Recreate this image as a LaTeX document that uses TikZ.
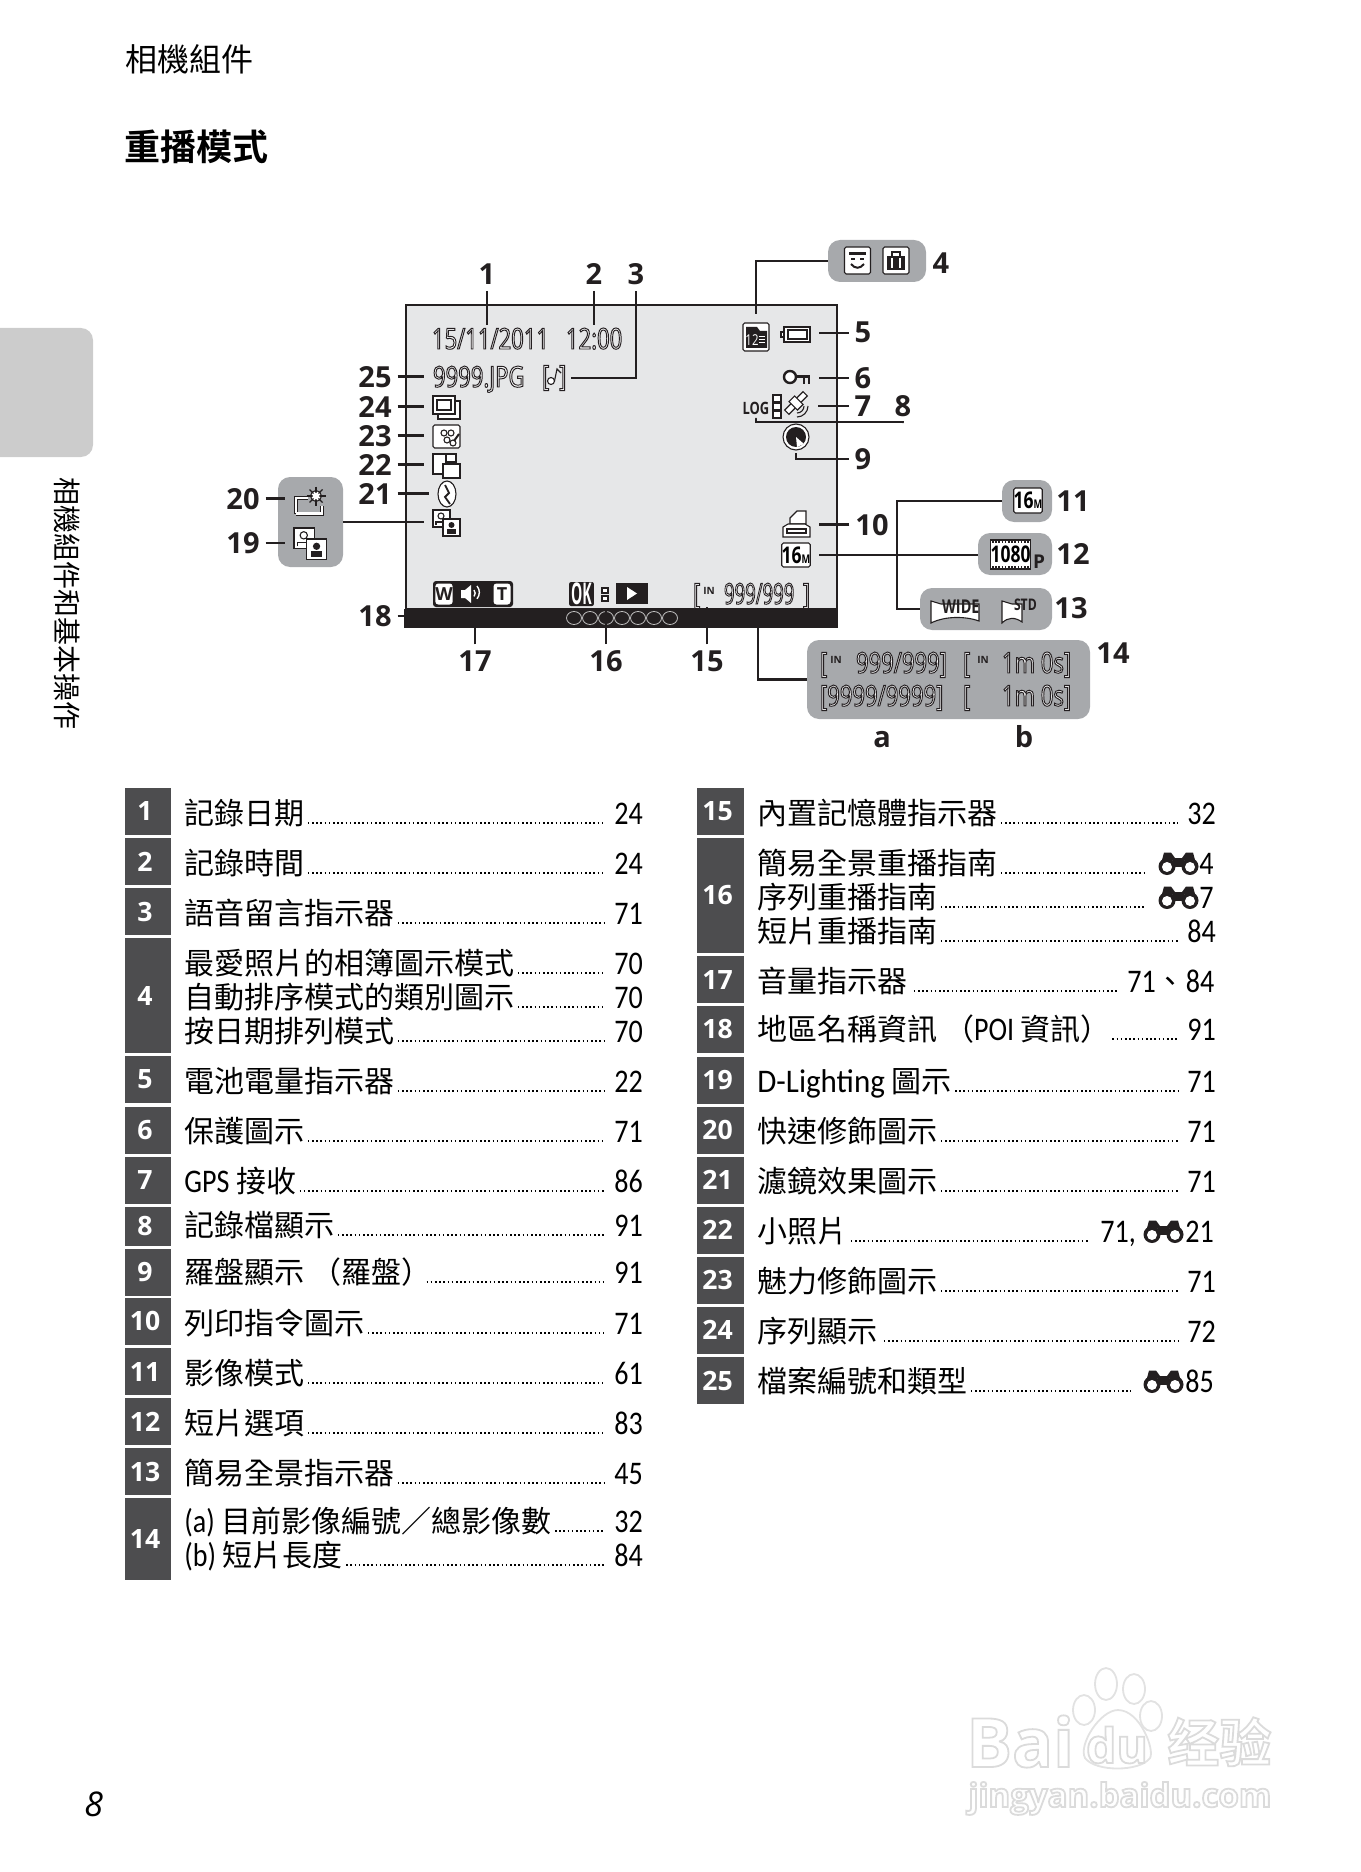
\documentclass[tikz,border=0pt]{standalone}
\usepackage{fontspec}
\usepackage{xcolor}
\usetikzlibrary{positioning, calc, shapes.geometric}

\setmainfont{Open Sans}
\newfontfamily\cjk{Noto Sans CJK TC}
\newfontfamily\cjkbold{Noto Sans CJK TC Bold}
\newfontfamily\bodyfont[Scale=1.1,FakeStretch=0.94]{Carlito}
\newfontfamily\pagefont[Scale=1.1,FakeStretch=0.85]{Carlito}
\newfontfamily\lcdfill[FakeStretch=0.76]{Open Sans}
\newfontfamily\lcdnarrow[FakeStretch=0.76]{Open Sans Bold}
\newfontfamily\wmfillfont{Open Sans Bold}
\newfontfamily\wmcjkfill{Noto Sans CJK SC Bold}

\definecolor{inkblack}{HTML}{231F20}
\definecolor{numgray}{HTML}{4D4D4F}
\definecolor{panelgray}{HTML}{A7A9AC}
\definecolor{lcdgray}{HTML}{E6E7E8}
\definecolor{tabgray}{HTML}{CCCCCC}
\definecolor{wmedge}{HTML}{E2E2E2}

\newcommand{\lcdtext}[1]{\special{pdf:code q 2 Tr 0.48 w 1 g 0.14 0.12 0.13 RG}{\lcdfill #1}\special{pdf:code Q}}
\newcommand{\wmtext}[1]{\special{pdf:code q 2 Tr 0.9 w 1 g 0.86 0.86 0.86 RG}#1\special{pdf:code Q}}
\newcommand{\imgmode}{\lcdnarrow 16{\fontsize{6}{6}\selectfont M}}

\tikzset{
    binoc/.pic={
        \fill[inkblack] (9,14.5) circle[radius=8.5];
        \fill[inkblack] (32,14.5) circle[radius=8.5];
        \fill[inkblack] (6,0.5) -- (13,0.5) -- (17,6) -- (24,6) -- (28,0.5) -- (35,0.5) -- (37,8) -- (4,8) -- cycle;
        \fill[inkblack] (15,6) rectangle (26,15);
        \fill[white] (9,15) circle[radius=5];
        \fill[white] (32,15) circle[radius=5];
    },
    dlight/.pic={
        \draw[iconline, fill=white] (0,0) rectangle (17,17);
        \draw[iconline] (8,6) circle[radius=3];
        \draw[iconline] (3,15) -- (3,12) -- (13,12) -- (13,15);
        \draw[iconline, fill=white] (10,9) rectangle (27,26);
        \fill[inkblack] (18.5,15) circle[radius=3];
        \fill[inkblack] (14,19) rectangle (23,24);
    }
}

\begin{document}
\begin{tikzpicture}[
    x=0.5pt, y=-0.5pt,
    leadline/.style={line width=1.15pt, draw=inkblack},
    iconline/.style={line width=0.55pt, draw=inkblack},
    leader/.style={line width=0.9pt, draw=black, dash pattern=on 0.8pt off 1.3pt},
    numbox/.style={rectangle, fill=numgray, text=white, inner sep=0pt, minimum width=23.25pt, minimum height=23.5pt, font=\bfseries\fontsize{13.3}{14}\selectfont, execute at begin node=\kern-3pt},
    entrytext/.style={anchor=base west, inner sep=0pt, font=\cjk\fontsize{15}{18}\selectfont},
    pagenum/.style={anchor=base west, inner sep=0pt, font=\pagefont\fontsize{15}{18}\selectfont},
    callout/.style={anchor=base, inner sep=0pt, outer sep=3pt, text=inkblack, font=\bfseries\fontsize{14.5}{16}\selectfont},
    panel/.style={rectangle, fill=panelgray, rounded corners=6pt, inner sep=0pt},
    lcdlabel/.style={anchor=base west, inner sep=0pt, outer xsep=0pt, outer ysep=1.5pt, font=\fontsize{14.5}{16}\selectfont},
    lcdsmall/.style={anchor=base west, inner sep=0pt, outer sep=0pt, text=inkblack},
    lcdspot/.style={rectangle, inner sep=0pt, outer sep=4.5pt},
    lcdicon/.style={lcdspot, draw=inkblack, fill=white, line width=0.55pt, rounded corners=0.8pt}
]
    \useasboundingbox (0,0) rectangle (1360,1872);

    % page furniture
    \node[anchor=base west, inner sep=0pt, font=\cjk\fontsize{16}{18}\selectfont] (runhead) at (125,72) {相機組件};
    \node[anchor=base west, inner sep=0pt, font=\cjkbold\fontsize{18}{20}\selectfont] (section) at (124,161) {重播模式};
    \fill[tabgray, rounded corners=6pt] (-20,328) rectangle (93,457);
    \node[rotate=-90, inner sep=0pt, font=\cjk\fontsize{14}{16}\selectfont] (sidetext) at (67,603) {相機組件和基本操作};
    \node[anchor=base west, inner sep=0pt, font=\itshape\fontsize{17}{20}\selectfont] (pageno) at (84,1816) {8};

    % screen
    \node[rectangle, draw=inkblack, fill=lcdgray, line width=1.15pt, inner sep=0pt, minimum width=215.5pt, minimum height=152pt] (screen) at (621.5,457) {};
    \node[rectangle, fill=inkblack, inner sep=0pt, minimum width=217pt, minimum height=9.5pt] (navbar) at (621,618.5) {};
    \draw[white!75!black, line width=0.4pt] (574,618) circle[x radius=7.5, y radius=6.5];
    \draw[white!75!black, line width=0.4pt] (590,618) circle[x radius=7.5, y radius=6.5];
    \draw[white!75!black, line width=0.4pt] (606,618) circle[x radius=7.5, y radius=6.5];
    \draw[white!75!black, line width=0.4pt] (622,618) circle[x radius=7.5, y radius=6.5];
    \draw[white!75!black, line width=0.4pt] (638,618) circle[x radius=7.5, y radius=6.5];
    \draw[white!75!black, line width=0.4pt] (654,618) circle[x radius=7.5, y radius=6.5];
    \draw[white!75!black, line width=0.4pt] (670,618) circle[x radius=7.5, y radius=6.5];

    % screen texts
    \node[lcdlabel] (date) at (432,349) {\lcdtext{15/11/2011}};
    \node[lcdlabel] (clock) at (566,349) {\lcdtext{12:00}};
    \node[lcdlabel, outer xsep=4.5pt] (jpgname) at (424,387) {\lcdtext{9999.JPG}};
    \node[lcdlabel, outer xsep=2pt] (audio) at (538,386) {\lcdtext{[\hspace{5pt}]}};
    \draw[iconline, fill=white] (551,381) circle[radius=3.5];
    \draw[iconline] (554.5,381) -- (557,369) -- (561,373);

    % left column icons
    \node[lcdspot, minimum width=13.5pt, minimum height=11.5pt] (seqicon) at (446.5,407.5) {};
    \draw[iconline, fill=white] (438,401) rectangle (460,419);
    \draw[iconline, fill=white] (433,396) rectangle (455,414);
    \draw[iconline] (437,400) rectangle (451,410);
    \node[lcdicon, minimum width=13.5pt, minimum height=11.5pt] (glamicon) at (446.5,436.5) {};
    \draw[iconline] (444,433) circle[radius=3];
    \draw[iconline] (451,433) circle[radius=3];
    \draw[iconline] (447,440) circle[radius=3];
    \draw[iconline, fill=white] (453,443) circle[radius=3];
    \draw[line width=1pt, inkblack] (454,441) -- (459,434);
    \node[lcdspot, minimum width=13.5pt, minimum height=12pt] (miniicon) at (446.5,466) {};
    \draw[iconline, fill=white] (433,454) rectangle (456,474);
    \draw[iconline] (446,454) -- (446,462) -- (456,462);
    \draw[iconline, fill=white] (443,464) rectangle (460,478);
    \node[lcdspot, ellipse, draw=inkblack, fill=white, line width=0.55pt, minimum width=9pt, minimum height=13pt] (filticon) at (447,494) {};
    \draw[inkblack, line width=0.9pt] (445,485) -- (449,493) -- (445,497) -- (450,504);
    \node[lcdspot, minimum width=13.5pt, minimum height=13pt] (dlicon) at (446.5,523) {};
    \pic at (433,510) {dlight};

    % right column icons
    \node[lcdicon, minimum width=13pt, minimum height=14pt] (sdcard) at (756,337) {};
    \fill[inkblack] (746,327) -- (757,327) -- (760,331) -- (767,331) -- (767,348) -- (746,348) -- cycle;
    \node[inner sep=0pt, text=white, font=\lcdfill\fontsize{7.5}{8}\selectfont] (sdnum) at (752,340) {12};
    \fill[white] (759,336) rectangle (765,337);
    \fill[white] (759,339) rectangle (765,340);
    \fill[white] (759,342) rectangle (765,343);
    \node[lcdspot, minimum width=14.5pt, minimum height=7.5pt] (battery) at (795.5,334.5) {};
    \draw[iconline, fill=white] (784,327) rectangle (810,342);
    \draw[iconline] (788,330) rectangle (807,339);
    \draw[iconline, fill=white] (781,332) rectangle (784,337);
    \node[lcdspot, minimum width=13.5pt, minimum height=7.5pt] (keyicon) at (796.5,377.5) {};
    \draw[inkblack, fill=white, line width=1.2pt] (790,377) circle[radius=6];
    \draw[inkblack, line width=1.8pt] (796,376.5) -- (810,376.5);
    \draw[inkblack, line width=1pt] (804,376) -- (804,384);
    \draw[inkblack, line width=1pt] (809,376) -- (809,384);
    \node[lcdspot, minimum width=13pt, minimum height=12.5pt] (gpsicon) at (796,405.5) {};
    \draw[iconline, fill=white, rotate around={45:(796,403)}] (783,400) rectangle (809,406);
    \draw[iconline, fill=white, rotate around={45:(796,403)}] (792,397) rectangle (800,409);
    \draw[iconline] (797,417) arc[start angle=90, end angle=0, radius=11];
    \draw[iconline] (797,413) arc[start angle=90, end angle=0, radius=7];
    \draw[iconline, fill=white] (773,395) rectangle (781,402);
    \draw[iconline, fill=white] (773,403) rectangle (781,410);
    \draw[iconline, fill=white] (773,411) rectangle (781,418);
    \node[lcdsmall, anchor=center, outer sep=2pt, font=\lcdnarrow\fontsize{8.5}{8}\selectfont] (logicon) at (756,408.5) {LOG};
    \node[circle, draw=inkblack, fill=white, line width=0.55pt, inner sep=0pt, outer sep=1.5pt, minimum size=13pt] (compass) at (796,437) {};
    \fill[inkblack] (796,437) circle[radius=10];
    \fill[white] (796,437) -- (804,444) -- (797,447) -- cycle;
    \node[lcdspot, minimum width=13.5pt, minimum height=13pt] (printer) at (796.5,524) {};
    \draw[iconline, fill=white] (790,524) -- (790,518) -- (797,511) -- (806,511) -- (806,524) -- cycle;
    \draw[iconline, fill=white] (783,537) -- (783,527) -- (788,524) -- (805,524) -- (810,527) -- (810,537) -- cycle;
    \draw[iconline] (787,529) rectangle (806,533);
    \node[lcdicon, minimum width=13pt, minimum height=12pt, font=\fontsize{11.5}{13}\selectfont] (imgicon) at (796,555) {\imgmode};

    % bottom row of the screen
    \node[rectangle, fill=inkblack, rounded corners=1.5pt, inner sep=0pt, outer sep=0pt, minimum width=40pt, minimum height=13pt] (zoompill) at (473,594) {};
    \node[rectangle, fill=white, text=inkblack, rounded corners=1.5pt, inner sep=0pt, minimum width=8.5pt, minimum height=10.5pt, font=\bfseries\fontsize{9}{10}\selectfont] (zoomw) at (444,594) {W};
    \node[rectangle, fill=white, text=inkblack, rounded corners=1.5pt, inner sep=0pt, minimum width=8.5pt, minimum height=10.5pt, font=\bfseries\fontsize{9}{10}\selectfont] (zoomt) at (502,594) {T};
    \fill[white] (461,590) -- (465,590) -- (471,585) -- (471,603) -- (465,598) -- (461,598) -- cycle;
    \draw[white, line width=0.7pt] (474,590) arc[start angle=-40, end angle=40, radius=5];
    \draw[white, line width=0.7pt] (477,586) arc[start angle=-40, end angle=40, radius=10];
    \node[rectangle, fill=inkblack, inner sep=0pt, text=white, rounded corners=1pt, xscale=0.62, transform shape, minimum width=20pt, minimum height=12pt, font=\lcdnarrow\fontsize{15}{15}\selectfont] (okkey) at (581.5,594) {OK};
    \draw[iconline, fill=white] (602,588) rectangle (608,593);
    \draw[iconline, fill=white] (602,596) rectangle (608,601);
    \node[rectangle, fill=inkblack, inner sep=0pt, minimum width=16pt, minimum height=10.5pt] (playkey) at (632,593.5) {};
    \fill[white] (627,587) -- (637,593.5) -- (627,600) -- cycle;
    \node[lcdlabel] (memleft) at (693,604) {\lcdtext{[}};
    \node[lcdspot, text=inkblack, font=\bfseries\fontsize{5}{5}\selectfont, minimum width=6pt, minimum height=6.5pt] (memin) at (709,591) {IN};
    \node[lcdlabel, xscale=0.84, transform shape] (memcount) at (724,604) {\lcdtext{999/999}};
    \node[lcdlabel] (memright) at (803,604) {\lcdtext{]}};

    % grey panels
    \node[panel, minimum width=49pt, minimum height=21pt] (panelalbum) at (877,261) {};
    \node[lcdicon, minimum width=13pt, minimum height=13.5pt] (faceicon) at (857.5,260.5) {};
    \fill[inkblack] (849,252) rectangle (866,255);
    \fill[inkblack] (851,258) rectangle (855,260);
    \fill[inkblack] (860,258) rectangle (864,260);
    \draw[inkblack, line width=1pt] (851,264) .. controls (855,269) and (860,269) .. (864,264);
    \node[lcdicon, minimum width=13pt, minimum height=13.5pt] (bagicon) at (896,260.5) {};
    \fill[inkblack] (887,256) rectangle (905,270);
    \draw[inkblack, line width=1pt] (892,256) -- (892,252) -- (900,252) -- (900,256);
    \fill[white] (891,258) rectangle (893,268);
    \fill[white] (899,258) rectangle (901,268);
    \node[panel, minimum width=25pt, minimum height=21pt] (panelmode) at (1027,501) {};
    \node[lcdicon, minimum width=13pt, minimum height=12.5pt, font=\fontsize{11.5}{13}\selectfont] (modeicon) at (1028,500.5) {\imgmode};
    \node[panel, minimum width=37pt, minimum height=21pt] (panelclip) at (1015,554) {};
    \node[rectangle, draw=inkblack, fill=white, line width=0.55pt, inner sep=0pt, minimum width=19.5pt, minimum height=14.5pt, font=\lcdnarrow\fontsize{11.5}{12}\selectfont] (clipicon) at (1010.5,554.5) {1080};
    \draw[inkblack, line width=1.2pt, dash pattern=on 0.8pt off 0.8pt] (992,542) -- (1030,542);
    \draw[inkblack, line width=1.2pt, dash pattern=on 0.8pt off 0.8pt] (992,567) -- (1030,567);
    \node[lcdsmall, font=\bfseries\fontsize{9.5}{10}\selectfont] (clipp) at (1033,568) {P};
    \node[panel, minimum width=66pt, minimum height=21pt] (panelpano) at (986,609) {};
    \node[lcdspot, minimum width=24pt, minimum height=12.5pt] (wideicon) at (955,610.5) {};
    \draw[iconline, fill=white] (931,601) -- (941,604) -- (979,604) -- (979,621) .. controls (965,616) and (945,616) .. (931,623) -- cycle;
    \node[lcdsmall, font=\lcdnarrow\fontsize{9.5}{9}\selectfont] (widetext) at (942,613) {WIDE};
    \draw[iconline, fill=white] (1002,601) -- (1012,604) -- (1022,604) -- (1022,622) .. controls (1015,617) and (1008,617) .. (1002,623) -- cycle;
    \node[lcdsmall, font=\lcdnarrow\fontsize{8}{8}\selectfont] (stdtext) at (1014,610) {STD};
    \node[panel, minimum width=141.5pt, minimum height=39.5pt] (panelcount) at (948.5,679.5) {};
    \node[lcdlabel] (counta) at (820,673) {\lcdtext{[}};
    \node[lcdspot, outer sep=0pt, text=inkblack, font=\bfseries\fontsize{5}{5}\selectfont] (countain) at (836,660) {IN};
    \node[lcdlabel] (countb) at (856,673) {\lcdtext{999/999]}};
    \node[lcdlabel] (countc) at (963,673) {\lcdtext{[}};
    \node[lcdspot, outer sep=0pt, text=inkblack, font=\bfseries\fontsize{5}{5}\selectfont] (countcin) at (983,660) {IN};
    \node[lcdlabel] (countd) at (1002,673) {\lcdtext{1m 0s]}};
    \node[lcdlabel] (counte) at (820,706) {\lcdtext{[9999/9999]}};
    \node[lcdlabel] (countf) at (963,706) {\lcdtext{[}};
    \node[lcdlabel] (countg) at (1002,706) {\lcdtext{1m 0s]}};
    \node[panel, minimum width=32.5pt, minimum height=45pt] (panelfx) at (310.5,522) {};
    \node[lcdspot, minimum width=16pt, minimum height=14pt] (fxicon) at (310,500.5) {};
    \draw[inkblack, line width=2.2pt, line join=miter] (296,514) -- (296,498) -- (308,498);
    \draw[inkblack, line width=2.2pt] (296,514) -- (322,514) -- (322,506);
    \draw[white, line width=1.2pt] (296,513) -- (296,498) -- (308,498);
    \draw[white, line width=1.2pt] (296,513.5) -- (322,513.5) -- (322,506);
    \draw[inkblack, line width=0.5pt, fill=white] (316,496) circle[radius=5.5];
    \draw[inkblack, line width=0.7pt] (316,486.5) -- (316,505.5);
    \draw[inkblack, line width=0.7pt] (306.5,496) -- (325.5,496);
    \draw[inkblack, line width=0.7pt] (309.5,489.5) -- (322.5,502.5);
    \draw[inkblack, line width=0.7pt] (309.5,502.5) -- (322.5,489.5);
    \fill[white] (316,496) circle[radius=3.5];
    \node[lcdspot, minimum width=16.5pt, minimum height=16pt] (lighticon) at (310.5,544) {};
    \pic[scale=1.22] at (294,528) {dlight};

    % number labels
    \node[callout] (n1) at (487,285) {1};
    \node[callout] (n2) at (594,285) {2};
    \node[callout] (n3) at (636,285) {3};
    \node[callout] (n4) at (941,274) {4};
    \node[callout] (n5) at (863,343) {5};
    \node[callout] (n6) at (863,388) {6};
    \node[callout] (n7) at (863,416) {7};
    \node[callout] (n8) at (903,416) {8};
    \node[callout] (n9) at (863,469) {9};
    \node[callout] (n10) at (872,535) {10};
    \node[callout] (n11) at (1073,511) {11};
    \node[callout] (n12) at (1073,564) {12};
    \node[callout] (n13) at (1071,618) {13};
    \node[callout] (n14) at (1113,663) {14};
    \node[callout] (n15) at (707,671) {15};
    \node[callout] (n16) at (606,671) {16};
    \node[callout] (n17) at (475,671) {17};
    \node[callout] (n18) at (375,626) {18};
    \node[callout] (n19) at (243,553) {19};
    \node[callout] (n20) at (243,509) {20};
    \node[callout] (n21) at (375,504) {21};
    \node[callout] (n22) at (375,475) {22};
    \node[callout] (n23) at (375,446) {23};
    \node[callout] (n24) at (375,417) {24};
    \node[callout] (n25) at (375,387) {25};
    \node[callout] (suba) at (882,747) {a};
    \node[callout] (subb) at (1024,747) {b};
    \coordinate (bar8) at (903,422);
    \coordinate (elbow13) at (897,611);
    \coordinate (drop14) at (758,610);

    % connectors
    \draw[leadline] (n1.south) -- (n1.south |- date.north);
    \draw[leadline] (n2.south) -- (n2.south |- clock.north);
    \draw[leadline] (n3.south) |- (audio.east);
    \draw[leadline] (panelalbum.west) -| (sdcard.north);
    \draw[leadline] (n5.west) -- (n5.west -| battery.east);
    \draw[leadline] (n6.west) -- (n6.west -| keyicon.east);
    \draw[leadline] (n7.west) -- (n7.west -| gpsicon.east);
    \draw[leadline, line cap=round] (logicon.south) |- (bar8) -- (n8.south);
    \draw[leadline] (compass.south) |- (n9.west);
    \draw[leadline] (n10.west) -- (n10.west -| printer.east);
    \draw[leadline] (panelmode.west) -- (panelmode.west -| elbow13) |- (panelpano.west);
    \draw[leadline] (imgicon.east) -- (imgicon.east -| panelclip.west);
    \draw[leadline] (panelcount.west) -| (drop14);
    \draw[leadline] (n15.north) -- (n15.north |- memin.south);
    \draw[leadline] (n16.north) -- (n16.north |- navbar.north);
    \draw[leadline] (n17.north) -- (n17.north |- navbar.north);
    \draw[leadline] (n18.east) -- (n18.east -| navbar.west);
    \draw[leadline] (n19.east) -- (n19.east -| lighticon.west);
    \draw[leadline] (n20.east) -- (n20.east -| fxicon.west);
    \draw[leadline] (panelfx.east) -- (panelfx.east -| dlicon.west);
    \draw[leadline] (n21.east) -- (n21.east -| filticon.west);
    \draw[leadline] (n22.east) -- (n22.east -| miniicon.west);
    \draw[leadline] (n23.east) -- (n23.east -| glamicon.west);
    \draw[leadline] (n24.east) -- (n24.east -| seqicon.west);
    \draw[leadline] (n25.east) -- (n25.east -| jpgname.west);

    % left table
    \node[numbox] (k1) at (148,811) {1};
    \node[entrytext] (t1) at (184,824) {記錄日期};
    \node[pagenum] (p1) at (614,824) {24};
    \draw[leader] ($(t1.base east)+(3,-1)$) -- ($(p1.base west)+(-10,-1)$);
    \node[numbox] (k2) at (148,861.5) {2};
    \node[entrytext] (t2) at (184,874) {記錄時間};
    \node[pagenum] (p2) at (614,874) {24};
    \draw[leader] ($(t2.base east)+(3,-1)$) -- ($(p2.base west)+(-10,-1)$);
    \node[numbox] (k3) at (148,911.5) {3};
    \node[entrytext] (t3) at (184,924) {語音留言指示器};
    \node[pagenum] (p3) at (614,924) {71};
    \draw[leader] ($(t3.base east)+(3,-1)$) -- ($(p3.base west)+(-10,-1)$);
    \node[numbox, minimum height=57.5pt] (k4) at (148,995.5) {4};
    \node[entrytext] (t4a) at (184,974) {最愛照片的相簿圖示模式};
    \node[pagenum] (p4a) at (614,974) {70};
    \draw[leader] ($(t4a.base east)+(3,-1)$) -- ($(p4a.base west)+(-10,-1)$);
    \node[entrytext] (t4b) at (184,1008) {自動排序模式的類別圖示};
    \node[pagenum] (p4b) at (614,1008) {70};
    \draw[leader] ($(t4b.base east)+(3,-1)$) -- ($(p4b.base west)+(-10,-1)$);
    \node[entrytext] (t4c) at (184,1042) {按日期排列模式};
    \node[pagenum] (p4c) at (614,1042) {70};
    \draw[leader] ($(t4c.base east)+(3,-1)$) -- ($(p4c.base west)+(-10,-1)$);
    \node[numbox] (k5) at (148,1079.5) {5};
    \node[entrytext] (t5) at (184,1092) {電池電量指示器};
    \node[pagenum] (p5) at (614,1092) {22};
    \draw[leader] ($(t5.base east)+(3,-1)$) -- ($(p5.base west)+(-10,-1)$);
    \node[numbox] (k6) at (148,1130) {6};
    \node[entrytext] (t6) at (184,1142) {保護圖示};
    \node[pagenum] (p6) at (614,1142) {71};
    \draw[leader] ($(t6.base east)+(3,-1)$) -- ($(p6.base west)+(-10,-1)$);
    \node[numbox] (k7) at (148,1180) {7};
    \node[entrytext] (t7) at (184,1192) {{\pagefont GPS} 接收};
    \node[pagenum] (p7) at (614,1192) {86};
    \draw[leader] ($(t7.base east)+(3,-1)$) -- ($(p7.base west)+(-10,-1)$);
    \node[numbox, minimum height=19.5pt] (k8) at (148,1226) {8};
    \node[entrytext] (t8) at (184,1236) {記錄檔顯示};
    \node[pagenum] (p8) at (614,1236) {91};
    \draw[leader] ($(t8.base east)+(3,-1)$) -- ($(p8.base west)+(-10,-1)$);
    \node[numbox] (k9) at (148,1272) {9};
    \node[entrytext] (t9) at (184,1283) {羅盤顯示 （羅盤）};
    \node[pagenum] (p9) at (614,1283) {91};
    \draw[leader] ($(t9.base east)+(-5,-1)$) -- ($(p9.base west)+(-10,-1)$);
    \node[numbox] (k10) at (148,1321) {10};
    \node[entrytext] (t10) at (184,1334) {列印指令圖示};
    \node[pagenum] (p10) at (614,1334) {71};
    \draw[leader] ($(t10.base east)+(3,-1)$) -- ($(p10.base west)+(-10,-1)$);
    \node[numbox] (k11) at (148,1371.5) {11};
    \node[entrytext] (t11) at (184,1384) {影像模式};
    \node[pagenum] (p11) at (614,1384) {61};
    \draw[leader] ($(t11.base east)+(3,-1)$) -- ($(p11.base west)+(-10,-1)$);
    \node[numbox] (k12) at (148,1421.5) {12};
    \node[entrytext] (t12) at (184,1434) {短片選項};
    \node[pagenum] (p12) at (614,1434) {83};
    \draw[leader] ($(t12.base east)+(3,-1)$) -- ($(p12.base west)+(-10,-1)$);
    \node[numbox] (k13) at (148,1471.5) {13};
    \node[entrytext] (t13) at (184,1484) {簡易全景指示器};
    \node[pagenum] (p13) at (614,1484) {45};
    \draw[leader] ($(t13.base east)+(3,-1)$) -- ($(p13.base west)+(-10,-1)$);
    \node[numbox, minimum height=41pt] (k14) at (148,1539) {14};
    \node[entrytext] (t14a) at (184,1532) {{\pagefont (a)} 目前影像編號／總影像數};
    \node[pagenum] (p14a) at (614,1532) {32};
    \draw[leader] ($(t14a.base east)+(3,-1)$) -- ($(p14a.base west)+(-10,-1)$);
    \node[entrytext] (t14b) at (184,1566) {{\pagefont (b)} 短片長度};
    \node[pagenum] (p14b) at (614,1566) {84};
    \draw[leader] ($(t14b.base east)+(3,-1)$) -- ($(p14b.base west)+(-10,-1)$);

    % right table
    \node[numbox] (k15) at (720.5,811) {15};
    \node[entrytext] (t15) at (757,824) {內置記憶體指示器};
    \node[pagenum] (p15) at (1187,824) {32};
    \draw[leader] ($(t15.base east)+(3,-1)$) -- ($(p15.base west)+(-9,-1)$);
    \node[numbox, minimum height=57.5pt] (k16) at (720.5,895.5) {16};
    \node[entrytext] (t16a) at (757,874) {簡易全景重播指南};
    \node[pagenum] (p16a) at (1199,874) {4};
    \pic at (1158,852) {binoc};
    \draw[leader] ($(t16a.base east)+(3,-1)$) -- ($(p16a.base west)+(-53,-1)$);
    \node[entrytext] (t16b) at (757,908) {序列重播指南};
    \node[pagenum] (p16b) at (1199,908) {7};
    \pic at (1158,886) {binoc};
    \draw[leader] ($(t16b.base east)+(3,-1)$) -- ($(p16b.base west)+(-53,-1)$);
    \node[entrytext] (t16c) at (757,942) {短片重播指南};
    \node[pagenum] (p16c) at (1187,942) {84};
    \draw[leader] ($(t16c.base east)+(3,-1)$) -- ($(p16c.base west)+(-9,-1)$);
    \node[numbox] (k17) at (720.5,979.5) {17};
    \node[entrytext] (t17) at (757,992) {音量指示器};
    \node[pagenum] (p17) at (1127,992) {71\cjk、\pagefont 84};
    \draw[leader] ($(t17.base east)+(6,-1)$) -- ($(p17.base west)+(-8,-1)$);
    \node[numbox] (k18) at (720.5,1029.5) {18};
    \node[entrytext] (t18) at (757,1040) {地區名稱資訊 （{\pagefont POI} 資訊）};
    \node[pagenum] (p18) at (1187,1040) {91};
    \draw[leader] ($(t18.base east)+(1,-1)$) -- ($(p18.base west)+(-9,-1)$);
    \node[numbox] (k19) at (720.5,1080) {19};
    \node[entrytext] (t19) at (757,1092) {{\bodyfont D-Lighting} 圖示};
    \node[pagenum] (p19) at (1187,1092) {71};
    \draw[leader] ($(t19.base east)+(3,-1)$) -- ($(p19.base west)+(-9,-1)$);
    \node[numbox] (k20) at (720.5,1130) {20};
    \node[entrytext] (t20) at (757,1142) {快速修飾圖示};
    \node[pagenum] (p20) at (1187,1142) {71};
    \draw[leader] ($(t20.base east)+(3,-1)$) -- ($(p20.base west)+(-9,-1)$);
    \node[numbox] (k21) at (720.5,1180) {21};
    \node[entrytext] (t21) at (757,1192) {濾鏡效果圖示};
    \node[pagenum] (p21) at (1187,1192) {71};
    \draw[leader] ($(t21.base east)+(3,-1)$) -- ($(p21.base west)+(-9,-1)$);
    \node[numbox] (k22) at (720.5,1230) {22};
    \node[entrytext] (t22) at (757,1242) {小照片};
    \node[pagenum] (p22) at (1100,1242) {71,};
    \pic at (1143,1220) {binoc};
    \node[pagenum] (p22b) at (1185,1242) {21};
    \draw[leader] ($(t22.base east)+(3,-1)$) -- ($(p22.base west)+(-12,-1)$);
    \node[numbox] (k23) at (720.5,1280) {23};
    \node[entrytext] (t23) at (757,1292) {魅力修飾圖示};
    \node[pagenum] (p23) at (1187,1292) {71};
    \draw[leader] ($(t23.base east)+(3,-1)$) -- ($(p23.base west)+(-9,-1)$);
    \node[numbox] (k24) at (720.5,1330) {24};
    \node[entrytext] (t24) at (757,1342) {序列顯示};
    \node[pagenum] (p24) at (1187,1342) {72};
    \draw[leader] ($(t24.base east)+(6,-1)$) -- ($(p24.base west)+(-9,-1)$);
    \node[numbox] (k25) at (720.5,1380.5) {25};
    \node[entrytext] (t25) at (757,1392) {檔案編號和類型};
    \pic at (1143,1370) {binoc};
    \node[pagenum] (p25) at (1185,1392) {85};
    \draw[leader] ($(t25.base east)+(3,-1)$) -- ($(p25.base west)+(-54,-1)$);

    % watermark
    \node[anchor=base west, inner sep=0pt, font=\wmfillfont\fontsize{34}{36}\selectfont] (wmbai) at (966,1767) {\wmtext{Bai}};
    \draw[wmedge, fill=white, line width=0.9pt] (1106,1684) ellipse[x radius=11, y radius=16];
    \draw[wmedge, fill=white, line width=0.9pt] (1134,1689) ellipse[x radius=11, y radius=15];
    \draw[wmedge, fill=white, line width=0.9pt] (1084,1710) ellipse[x radius=11, y radius=15];
    \draw[wmedge, fill=white, line width=0.9pt] (1151,1716) ellipse[x radius=11, y radius=15];
    \draw[wmedge, fill=white, line width=0.9pt] (1118,1710) .. controls (1140,1710) and (1155,1750) .. (1150,1758) .. controls (1140,1772) and (1095,1772) .. (1085,1758) .. controls (1078,1745) and (1100,1710) .. (1118,1710) -- cycle;
    \node[inner sep=0pt, font=\wmfillfont\fontsize{24}{26}\selectfont] (wmdu) at (1117,1745) {\wmtext{du}};
    \node[anchor=base west, inner sep=0pt, font=\wmcjkfill\fontsize{26}{28}\selectfont] (wmjing) at (1167,1762) {\wmtext{经验}};
    \node[anchor=base west, inner sep=0pt, font=\wmfillfont\fontsize{16.5}{18}\selectfont] (wmurl) at (968,1807) {\wmtext{jingyan.baidu.com}};
\end{tikzpicture}
\end{document}
